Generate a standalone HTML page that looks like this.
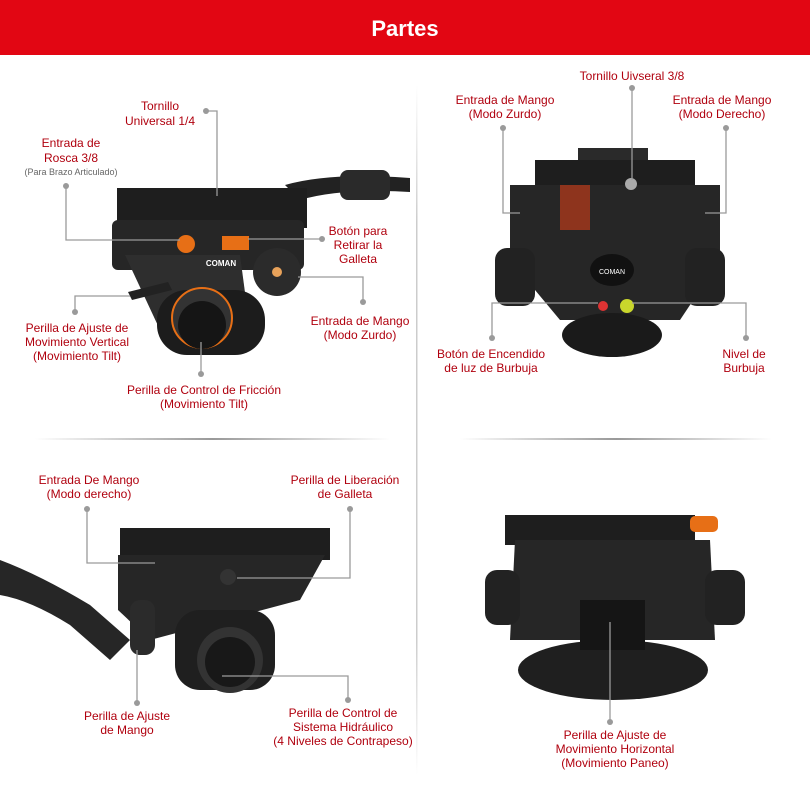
<!DOCTYPE html>
<html><head><meta charset="utf-8"><style>
html,body{margin:0;padding:0;background:#fff;width:810px;height:788px;overflow:hidden}
svg{display:block}
text{font-family:"Liberation Sans",sans-serif;font-size:12px;fill:#b0000e;text-anchor:middle}
.s{font-size:9px;fill:#666}
.l{stroke:#9a9a9a;stroke-width:1.3;fill:none}
.d{fill:#9a9a9a}
</style></head><body>
<svg width="810" height="788" viewBox="0 0 810 788">
<defs>
<linearGradient id="hg" x1="0" x2="1"><stop offset="0" stop-color="#fff"/><stop offset=".5" stop-color="#999"/><stop offset="1" stop-color="#fff"/></linearGradient>
<linearGradient id="vg" x1="0" y1="0" x2="0" y2="1"><stop offset="0" stop-color="#fff"/><stop offset=".2" stop-color="#ccc"/><stop offset=".8" stop-color="#ccc"/><stop offset="1" stop-color="#fff"/></linearGradient>
</defs>
<rect x="0" y="0" width="810" height="55" fill="#e20613"/>
<text x="405" y="36" style="font-size:22px;font-weight:bold;fill:#fff">Partes</text>
<rect x="416" y="85" width="1.5" height="690" fill="url(#vg)"/>
<rect x="35" y="438" width="355" height="2" fill="url(#hg)"/>
<rect x="460" y="438" width="312" height="2" fill="url(#hg)"/>

<!-- Q1 head -->
<path d="M285 185 Q330 172 410 178 L410 192 Q340 188 300 200Z" fill="#222"/>
<rect x="340" y="170" width="50" height="30" rx="8" fill="#2a2a2a"/>
<rect x="117" y="188" width="190" height="40" fill="#1e1e1e"/>
<rect x="112" y="220" width="192" height="50" rx="6" fill="#262626"/>
<path d="M125 255 L240 255 L250 330 L160 330Z" fill="#2e2e2e"/>
<rect x="157" y="290" width="108" height="65" rx="30" fill="#1c1c1c"/>
<circle cx="202" cy="318" r="30" fill="#333" stroke="#e76f16" stroke-width="2"/>
<circle cx="202" cy="325" r="24" fill="#151515"/>
<circle cx="277" cy="272" r="24" fill="#2b2b2b"/>
<circle cx="277" cy="272" r="5" fill="#e8a25a"/>
<circle cx="186" cy="244" r="9" fill="#e76f16"/>
<rect x="222" y="236" width="27" height="14" fill="#e76f16"/>
<path d="M128 292 L168 282 L172 290 L132 300Z" fill="#222"/>
<text x="221" y="266" style="font-size:8px;fill:#fff;font-weight:bold">COMAN</text>
<!-- Q1 labels -->
<text x="160" y="110">Tornillo</text><text x="160" y="125">Universal 1/4</text>
<path class="l" d="M206 111 H217 V196"/><circle class="d" cx="206" cy="111" r="3"/>
<text x="71" y="147">Entrada de</text><text x="71" y="162">Rosca 3/8</text><text class="s" x="71" y="175">(Para Brazo Articulado)</text>
<path class="l" d="M66 186 V240 H180"/><circle class="d" cx="66" cy="186" r="3"/>
<text x="358" y="235">Botón para</text><text x="358" y="249">Retirar la</text><text x="358" y="263">Galleta</text>
<path class="l" d="M322 239 H248"/><circle class="d" cx="322" cy="239" r="3"/>
<text x="360" y="325">Entrada de Mango</text><text x="360" y="339">(Modo Zurdo)</text>
<path class="l" d="M298 277 H363 V302"/><circle class="d" cx="363" cy="302" r="3"/>
<text x="77" y="332">Perilla de Ajuste de</text><text x="77" y="346">Movimiento Vertical</text><text x="77" y="360">(Movimiento Tilt)</text>
<path class="l" d="M75 312 V296 H130"/><circle class="d" cx="75" cy="312" r="3"/>
<text x="204" y="394">Perilla de Control de Fricción</text><text x="204" y="408">(Movimiento Tilt)</text>
<path class="l" d="M201 342 V374"/><circle class="d" cx="201" cy="374" r="3"/>

<!-- Q2 head -->
<rect x="578" y="148" width="70" height="16" fill="#2a2a2a"/>
<rect x="535" y="160" width="160" height="30" fill="#1e1e1e"/>
<path d="M510 185 L720 185 L720 260 L680 320 L560 320 L510 260Z" fill="#262626"/>
<rect x="495" y="248" width="40" height="58" rx="12" fill="#222"/>
<rect x="685" y="248" width="40" height="58" rx="12" fill="#222"/>
<ellipse cx="612" cy="335" rx="50" ry="22" fill="#1a1a1a"/>
<ellipse cx="612" cy="270" rx="22" ry="16" fill="#111"/>
<text x="612" y="274" style="font-size:7px;fill:#fff">COMAN</text>
<circle cx="631" cy="184" r="6" fill="#aaa"/>
<rect x="560" y="185" width="30" height="45" fill="#bb3a1a" opacity=".7"/>
<circle cx="627" cy="306" r="7" fill="#c9d62c"/>
<circle cx="603" cy="306" r="5" fill="#d33"/>
<!-- Q2 labels -->
<text x="632" y="80">Tornillo Uivseral 3/8</text>
<path class="l" d="M632 88 V180"/><circle class="d" cx="632" cy="88" r="3"/>
<text x="505" y="104">Entrada de Mango</text><text x="505" y="118">(Modo Zurdo)</text>
<path class="l" d="M503 128 V213 H520"/><circle class="d" cx="503" cy="128" r="3"/>
<text x="722" y="104">Entrada de Mango</text><text x="722" y="118">(Modo Derecho)</text>
<path class="l" d="M726 128 V213 H705"/><circle class="d" cx="726" cy="128" r="3"/>
<text x="491" y="358">Botón de Encendido</text><text x="491" y="372">de luz de Burbuja</text>
<path class="l" d="M598 303 H492 V338"/><circle class="d" cx="492" cy="338" r="3"/>
<text x="744" y="358">Nivel de</text><text x="744" y="372">Burbuja</text>
<path class="l" d="M632 303 H746 V338"/><circle class="d" cx="746" cy="338" r="3"/>

<!-- Q3 head -->
<path d="M0 560 Q40 575 90 605 L130 640 L110 660 L70 625 Q30 600 0 595Z" fill="#262626"/>
<rect x="120" y="528" width="210" height="32" fill="#1e1e1e"/>
<path d="M118 555 L325 555 L300 600 L150 640 L118 610Z" fill="#262626"/>
<rect x="175" y="610" width="100" height="80" rx="25" fill="#1f1f1f"/>
<circle cx="230" cy="660" r="33" fill="#333"/>
<circle cx="230" cy="662" r="25" fill="#181818"/>
<rect x="130" y="600" width="25" height="55" rx="10" fill="#2b2b2b"/>
<circle cx="228" cy="577" r="8" fill="#333"/>
<!-- Q3 labels -->
<text x="89" y="484">Entrada De Mango</text><text x="89" y="498">(Modo derecho)</text>
<path class="l" d="M87 509 V563 H155"/><circle class="d" cx="87" cy="509" r="3"/>
<text x="345" y="484">Perilla de Liberación</text><text x="345" y="498">de Galleta</text>
<path class="l" d="M350 509 V578 H237"/><circle class="d" cx="350" cy="509" r="3"/>
<text x="127" y="720">Perilla de Ajuste</text><text x="127" y="734">de Mango</text>
<path class="l" d="M137 703 V650"/><circle class="d" cx="137" cy="703" r="3"/>
<text x="343" y="717">Perilla de Control de</text><text x="343" y="731">Sistema Hidráulico</text><text x="343" y="745">(4 Niveles de Contrapeso)</text>
<path class="l" d="M348 700 V676 H222"/><circle class="d" cx="348" cy="700" r="3"/>

<!-- Q4 head -->
<rect x="505" y="515" width="190" height="30" fill="#1e1e1e"/>
<rect x="690" y="516" width="28" height="16" rx="5" fill="#e76f16"/>
<path d="M515 540 L710 540 L715 640 L510 640Z" fill="#262626"/>
<rect x="485" y="570" width="35" height="55" rx="12" fill="#222"/>
<rect x="705" y="570" width="40" height="55" rx="12" fill="#222"/>
<ellipse cx="613" cy="670" rx="95" ry="30" fill="#1f1f1f"/>
<rect x="580" y="600" width="65" height="50" fill="#151515"/>
<!-- Q4 labels -->
<text x="615" y="739">Perilla de Ajuste de</text><text x="615" y="753">Movimiento Horizontal</text><text x="615" y="767">(Movimiento Paneo)</text>
<path class="l" d="M610 722 V622"/><circle class="d" cx="610" cy="722" r="3"/>
</svg>
</body></html>
